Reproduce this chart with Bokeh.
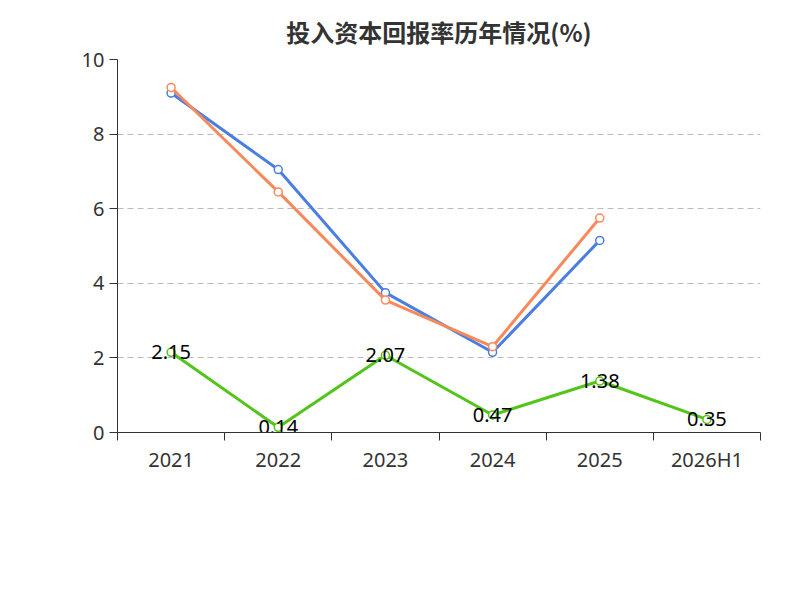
import math
from bokeh.plotting import figure
from bokeh.models import FixedTicker, Label, Legend, LegendItem, Range1d, ColumnDataSource
from bokeh.embed import file_html
from bokeh.resources import INLINE
from bokeh.core.properties import value

years = ["2021", "2022", "2023", "2024", "2025", "2026H1"]
company = [2.15, 0.14, 2.07, 0.47, 1.38, 0.35]
ind_avg = [9.1, 7.05, 3.75, 2.15, 5.15]
ind_med = [9.25, 6.45, 3.55, 2.3, 5.75]

xs = [i + 0.5 for i in range(len(years))]
GREEN, BLUE, ORANGE = "#52c41a", "#4a7ee0", "#f7895a"

p = figure(width=784, height=584, output_backend="svg", toolbar_location=None,
           x_range=Range1d(0, 6), y_range=Range1d(0, 10),
           min_border_left=117, min_border_right=24, min_border_top=30, min_border_bottom=152)
p.title.text = "投入资本回报率历年情况(%)"
p.title.align = "center"
p.title.text_font_size = "24px"
p.title.text_font = "Noto Sans CJK SC"
p.title.text_color = "#333333"
p.title.standoff = 22
p.outline_line_color = None
p.xgrid.visible = False
p.ygrid.grid_line_dash = "6 4"
p.ygrid.grid_line_color = "#bbbbbb"
p.ygrid.ticker = FixedTicker(ticks=[2, 4, 6, 8, 10])

p.xaxis.ticker = FixedTicker(ticks=xs, minor_ticks=list(range(7)))
p.xaxis.major_label_overrides = {x: y for x, y in zip(xs, years)}
p.xaxis.major_tick_line_color = None
p.xaxis.minor_tick_line_color = "#333333"
p.xaxis.minor_tick_out = 8
p.xaxis.minor_tick_in = 0
p.yaxis.ticker = FixedTicker(ticks=[0, 2, 4, 6, 8, 10])
p.yaxis.minor_tick_line_color = None
p.yaxis.major_tick_out = 8
p.yaxis.major_tick_in = 0
p.yaxis.major_tick_line_color = "#333333"
for ax in (p.xaxis, p.yaxis):
    ax.axis_line_color = "#333333"
    ax.major_label_text_font_size = "20px"
    ax.major_label_text_color = "#333333"
    ax.major_label_text_font = "Noto Sans"

r1 = p.line(xs, company, line_color=GREEN, line_width=3)
c1 = p.scatter(xs, company, size=8, fill_color="white", line_color=GREEN, line_width=1.5)
r2 = p.line(xs[:5], ind_avg, line_color=BLUE, line_width=3)
c2 = p.scatter(xs[:5], ind_avg, size=8, fill_color="white", line_color=BLUE, line_width=1.5)
r3 = p.line(xs[:5], ind_med, line_color=ORANGE, line_width=3)
c3 = p.scatter(xs[:5], ind_med, size=8, fill_color="white", line_color=ORANGE, line_width=1.5)

src = ColumnDataSource(dict(x=xs, y=company, t=[f"{v:.2f}" for v in company]))
p.text("x", "y", text="t", source=src, text_align="center", text_baseline="middle",
       text_font_size="20px", text_color="black", text_font=value("Noto Sans"))

legend = Legend(items=[LegendItem(label="公司投入资本回报率", renderers=[r1, c1]),
                       LegendItem(label="行业均值", renderers=[r2, c2]),
                       LegendItem(label="行业中位数", renderers=[r3, c3])],
                orientation="horizontal", location=(-60, -118), border_line_color=None,
                background_fill_alpha=0,
                label_text_font_size="20px", label_text_font="Noto Sans CJK SC",
                label_text_color="#333333", glyph_width=50, spacing=20)
p.add_layout(legend)

p.add_layout(Label(x=2.565, y=-4.3, text="制图数据来自恒生聚源数据库",
                   text_align="center", text_baseline="middle", text_font_size="15px",
                   text_color="#c8963c", text_font="Noto Sans CJK SC"))
p.add_layout(Label(x=-0.59, y=9.0, text="(%)", angle=math.pi/2,
                   text_align="center", text_baseline="middle", text_font_size="15px",
                   text_color="#dd0000", text_font="Noto Sans"))

open("out.html", "w").write(file_html(p, INLINE))
